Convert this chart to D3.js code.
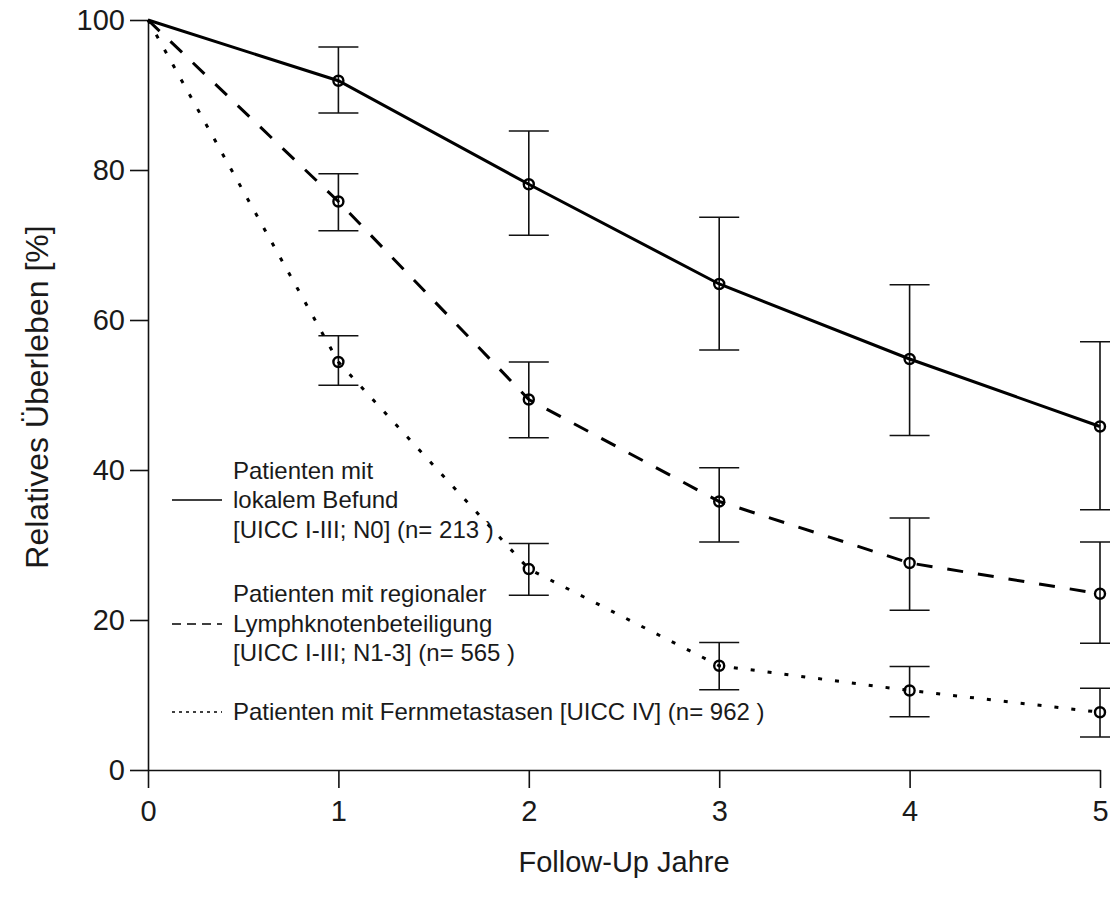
<!DOCTYPE html>
<html>
<head>
<meta charset="utf-8">
<script src="https://cdn.jsdelivr.net/npm/d3@7"></script>
<style>
  body { margin: 0; background: #fff; }
  text { font-family: "Liberation Sans", Arial, sans-serif; fill: #1a1a1a; }
</style>
</head>
<body>
<svg id="chart" width="1110" height="903"></svg>
<script>
// follow-up years
const years = [0, 1, 2, 3, 4, 5]

// relative survival in %, with confidence limits (no bar at year 0)
const lokal      = [100, 91.9, 78.1, 64.8, 54.8, 45.8]
const lokalLo    = [null, 87.6, 71.3, 56.0, 44.6, 34.7]
const lokalHi    = [null, 96.4, 85.2, 73.7, 64.7, 57.1]

const regional   = [100, 75.8, 49.4, 35.8, 27.6, 23.5]
const regionalLo = [null, 71.9, 44.3, 30.4, 21.3, 16.9]
const regionalHi = [null, 79.5, 54.4, 40.3, 33.6, 30.4]

const fern       = [100, 54.4, 26.8, 13.9, 10.6, 7.7]
const fernLo     = [null, 51.3, 23.3, 10.7, 7.1, 4.4]
const fernHi     = [null, 57.9, 30.2, 17.0, 13.8, 10.9]

const yTicks = [0, 20, 40, 60, 80, 100]

const legendLines = [
  ["Patienten mit", "lokalem Befund", "[UICC I-III; N0] (n= 213 )"],
  ["Patienten mit regionaler", "Lymphknotenbeteiligung", "[UICC I-III; N1-3] (n= 565 )"],
  ["Patienten mit Fernmetastasen [UICC IV] (n= 962 )"]
]

let svg = d3.select("#chart")

let x = d3.scaleLinear().domain([0, 5]).range([148, 1100])
let y = d3.scaleLinear().domain([0, 100]).range([770, 20])

let series = [
  { vals: lokal, lo: lokalLo, hi: lokalHi, dash: null, legDash: null },
  { vals: regional, lo: regionalLo, hi: regionalHi, dash: "16,15", legDash: "9,6" },
  { vals: fern, lo: fernLo, hi: fernHi, dash: "4,13", legDash: "3,4" }
]

// axes
let yAxis = svg.append("g")
  .attr("transform", "translate(" + x(0) + ",0)")
  .call(d3.axisLeft(y).tickValues(yTicks).tickSize(18).tickSizeOuter(0).tickPadding(5))
let xAxis = svg.append("g")
  .attr("transform", "translate(0," + y(0) + ")")
  .call(d3.axisBottom(x).ticks(5).tickSize(18).tickSizeOuter(0).tickPadding(12))

svg.selectAll(".domain, .tick line")
  .attr("stroke", "#111")
  .attr("stroke-width", 1.6)
svg.selectAll(".tick text")
  .attr("font-size", 29)
  .style("font-family", "'Liberation Sans', Arial, sans-serif")
  .attr("fill", "#1a1a1a")

// axis titles
svg.append("text")
  .attr("x", 624).attr("y", 872)
  .attr("text-anchor", "middle")
  .attr("font-size", 29)
  .text("Follow-Up Jahre")

svg.append("text")
  .attr("transform", "translate(48,397) rotate(-90)")
  .attr("text-anchor", "middle")
  .attr("font-size", 32)
  .text("Relatives Überleben [%]")

// error bars
series.forEach(s => {
  let g = svg.append("g")
  years.forEach((yr, i) => {
    if (s.lo[i] == null) return
    g.append("line")
      .attr("x1", x(yr)).attr("x2", x(yr))
      .attr("y1", y(s.lo[i])).attr("y2", y(s.hi[i]))
    g.append("line")
      .attr("x1", x(yr) - 20).attr("x2", x(yr) + 20)
      .attr("y1", y(s.lo[i])).attr("y2", y(s.lo[i]))
    g.append("line")
      .attr("x1", x(yr) - 20).attr("x2", x(yr) + 20)
      .attr("y1", y(s.hi[i])).attr("y2", y(s.hi[i]))
  })
  g.selectAll("line").attr("stroke", "#111").attr("stroke-width", 1.6)
})

// survival lines
let line = d3.line()
  .x((d, i) => x(years[i]))
  .y(d => y(d))

series.forEach(s => {
  svg.append("path")
    .datum(s.vals)
    .attr("d", line)
    .attr("fill", "none")
    .attr("stroke", "#000")
    .attr("stroke-width", 3)
    .attr("stroke-dasharray", s.dash)

  svg.append("g")
    .selectAll("circle")
    .data(s.vals.slice(1))
    .join("circle")
    .attr("cx", (d, i) => x(years[i + 1]))
    .attr("cy", d => y(d))
    .attr("r", 5)
    .attr("fill", "none")
    .attr("stroke", "#000")
    .attr("stroke-width", 2.4)
})

// legend
let legRows = [[471, 500, 530], [594, 624, 653], [712]]
series.forEach((s, k) => {
  let rows = legRows[k]
  let mid = rows[Math.floor(rows.length / 2)]
  svg.append("line")
    .attr("x1", 172).attr("x2", 222)
    .attr("y1", mid).attr("y2", mid)
    .attr("stroke", "#000")
    .attr("stroke-width", 1.6)
    .attr("stroke-dasharray", s.legDash)
  legendLines[k].forEach((t, j) => {
    svg.append("text")
      .attr("x", 233).attr("y", rows[j])
      .attr("dy", "0.35em")
      .attr("font-size", 24)
      .text(t)
  })
})
</script>
</body>
</html>
